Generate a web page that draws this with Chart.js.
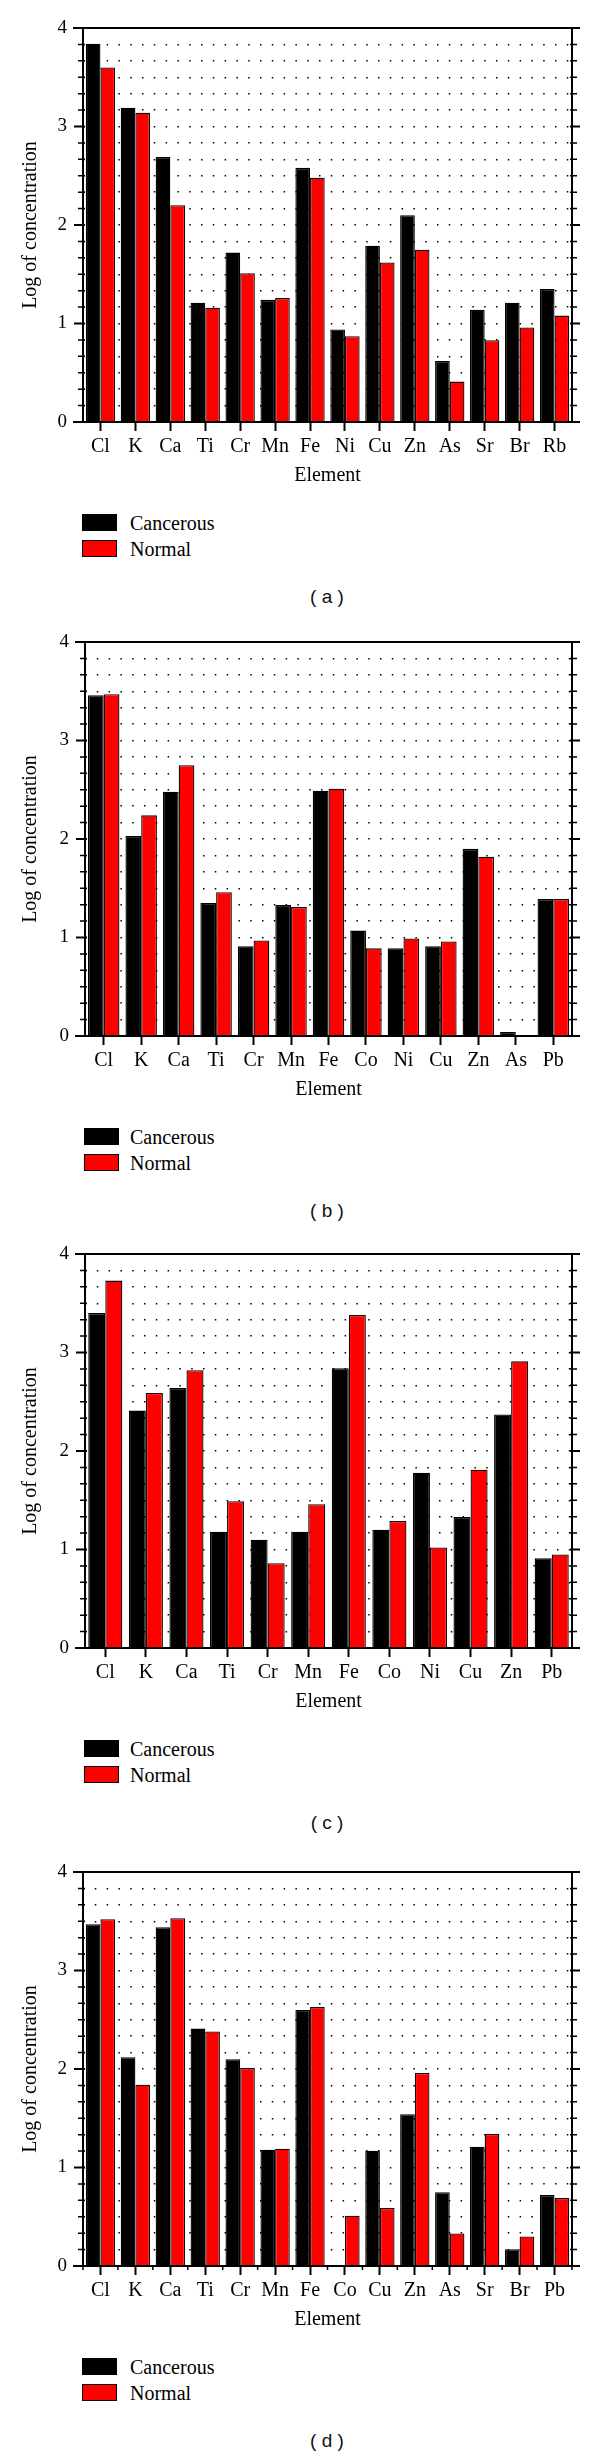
<!DOCTYPE html>
<html>
<head>
<meta charset="utf-8">
<script src="https://cdn.jsdelivr.net/npm/chart.js@4"></script>
<style>
    body { margin: 0; background: #fff; width: 600px; height: 2456px; position: relative; }
    .panel { position: absolute; left: 0; width: 600px; height: 614px; }
    .panel canvas { position: absolute; left: 0; top: 0; }
    .box { position: absolute; width: 35px; height: 17px; box-sizing: border-box; }
    .box.black { background: #000; }
    .box.red { background: #f00; border: 1.5px solid #000; }
    .legtext { position: absolute; left: 130px; font: 20px "Liberation Serif", serif; line-height: 22px; color: #000; }
    .caption { position: absolute; left: 227px; width: 200px; top: 585px; text-align: center; font: 19px "Liberation Sans", Arial, sans-serif; color: #111; line-height: 24px; }
</style>
</head>
<body>

<script>
// panel (a)
const elementsA = ["Cl", "K", "Ca", "Ti", "Cr", "Mn", "Fe", "Ni", "Cu", "Zn", "As", "Sr", "Br", "Rb"];
const cancerousA = [3.84, 3.19, 2.69, 1.21, 1.72, 1.24, 2.58, 0.94, 1.79, 2.10, 0.62, 1.14, 1.21, 1.35];
const normalA = [3.60, 3.14, 2.20, 1.16, 1.51, 1.26, 2.48, 0.87, 1.62, 1.75, 0.41, 0.83, 0.96, 1.08];

// panel (b)
const elementsB = ["Cl", "K", "Ca", "Ti", "Cr", "Mn", "Fe", "Co", "Ni", "Cu", "Zn", "As", "Pb"];
const cancerousB = [3.46, 2.03, 2.48, 1.35, 0.91, 1.33, 2.49, 1.07, 0.89, 0.91, 1.90, 0.04, 1.39];
const normalB = [3.47, 2.24, 2.75, 1.46, 0.97, 1.31, 2.51, 0.89, 0.99, 0.96, 1.82, 0, 1.39];

// panel (c)
const elementsC = ["Cl", "K", "Ca", "Ti", "Cr", "Mn", "Fe", "Co", "Ni", "Cu", "Zn", "Pb"];
const cancerousC = [3.40, 2.41, 2.64, 1.18, 1.10, 1.18, 2.84, 1.20, 1.78, 1.33, 2.37, 0.91];
const normalC = [3.73, 2.59, 2.82, 1.49, 0.86, 1.46, 3.38, 1.29, 1.02, 1.81, 2.91, 0.95];

// panel (d)
const elementsD = ["Cl", "K", "Ca", "Ti", "Cr", "Mn", "Fe", "Co", "Cu", "Zn", "As", "Sr", "Br", "Pb"];
const cancerousD = [3.47, 2.12, 3.44, 2.41, 2.10, 1.18, 2.60, 0, 1.17, 1.54, 0.75, 1.21, 0.17, 0.72];
const normalD = [3.52, 1.84, 3.53, 2.38, 2.01, 1.19, 2.63, 0.51, 0.59, 1.96, 0.33, 1.34, 0.30, 0.69];

const seriesNames = ["Cancerous", "Normal"];
const yMax = 4;
const minorPerUnit = 6;

const serif = "'Liberation Serif', 'Times New Roman', serif";

// axis frame + minor ticks like the original plot
const framePlugin = {
    id: "frame",
    afterDatasetsDraw(chart, args, opts) {
        const { ctx, chartArea } = chart;
        const { left, right, top, bottom } = chartArea;
        const yScale = chart.scales.y;
        const xScale = chart.scales.x;
        ctx.save();
        ctx.strokeStyle = "#000";
        ctx.lineCap = "butt";

        yScale.ticks.forEach(t => {
            const y = yScale.getPixelForValue(t.value);
            const major = Math.abs(t.value - Math.round(t.value)) < 1e-6;
            ctx.lineWidth = major ? 2 : 1.5;
            ctx.beginPath();
            ctx.moveTo(left - (major ? 9 : 5), y);
            ctx.lineTo(left + 2, y);
            ctx.moveTo(right - 2, y);
            ctx.lineTo(right + (major ? 8 : 5), y);
            ctx.stroke();
        });

        ctx.lineWidth = 2;
        ctx.beginPath();
        ctx.moveTo(left - 10, top);
        ctx.lineTo(right + 8, top);
        ctx.moveTo(left - 10, bottom);
        ctx.lineTo(right + 8, bottom);
        ctx.moveTo(left, top);
        ctx.lineTo(left, bottom);
        ctx.moveTo(right, top);
        ctx.lineTo(right, bottom);
        ctx.stroke();

        if (opts.boundaryTicks) {
            ctx.lineWidth = 1.5;
            ctx.beginPath();
            for (let i = 0; i <= xScale.ticks.length; i++) {
                const x = xScale.getPixelForValue(i - 0.5);
                ctx.moveTo(x, bottom);
                ctx.lineTo(x, bottom + 4);
            }
            ctx.stroke();
        }
        ctx.restore();
    }
};

function makePanel(letter, top, elements, cancerous, normal, axisWidth, boundaryTicks) {
    const panel = document.createElement("div");
    panel.className = "panel";
    panel.style.top = top + "px";
    panel.innerHTML =
        '<canvas width="600" height="488"></canvas>' +
        '<div class="box black" style="left:' + (axisWidth - 1) + 'px;top:514px"></div>' +
        '<div class="box red" style="left:' + (axisWidth - 1) + 'px;top:540px"></div>' +
        '<div class="legtext" style="top:512px">' + seriesNames[0] + '</div>' +
        '<div class="legtext" style="top:538px">' + seriesNames[1] + '</div>' +
        '<div class="caption">( ' + letter + ' )</div>';
    document.body.appendChild(panel);

    new Chart(panel.querySelector("canvas"), {
        type: "bar",
        data: {
            labels: elements,
            datasets: [{
                label: seriesNames[0],
                data: cancerous,
                backgroundColor: "#000",
                borderColor: "#000",
                borderWidth: 1.3
            }, {
                label: seriesNames[1],
                data: normal,
                backgroundColor: "#ff0000",
                borderColor: "#1a0000",
                borderWidth: 1.3
            }]
        },
        options: {
            responsive: false,
            animation: false,
            layout: { padding: { top: 28, right: 28, left: 0, bottom: 0 } },
            datasets: { bar: { categoryPercentage: 0.84, barPercentage: 1.0 } },
            plugins: {
                legend: { display: false },
                tooltip: { enabled: false },
                frame: { boundaryTicks: boundaryTicks }
            },
            scales: {
                x: {
                    grid: { drawOnChartArea: false, drawTicks: true, tickLength: 9, tickWidth: 2, tickColor: "#000", offset: false },
                    border: { display: false },
                    ticks: { color: "#000", font: { family: serif, size: 20 }, padding: 4, maxRotation: 0, autoSkip: false },
                    title: { display: true, text: "Element", color: "#000", font: { family: serif, size: 20 }, padding: { top: 0, bottom: 0 } },
                    afterFit: s => { s.height = 66; }
                },
                y: {
                    min: 0,
                    max: yMax,
                    afterBuildTicks: s => {
                        const t = [];
                        for (let k = 0; k <= yMax * minorPerUnit; k++) t.push({ value: k / minorPerUnit });
                        s.ticks = t;
                    },
                    ticks: {
                        color: "#000",
                        font: { family: serif, size: 19 },
                        padding: 16,
                        autoSkip: false,
                        callback: v => Math.abs(v - Math.round(v)) < 1e-6 ? Math.round(v) : ""
                    },
                    grid: { drawTicks: false, color: "#000", lineWidth: 1.5 },
                    border: { display: false, dash: [1.5, 10.3] },
                    title: { display: true, text: "Log of concentration", color: "#000", font: { family: serif, size: 20 }, padding: { top: 19, bottom: 0 } },
                    afterFit: s => { s.width = axisWidth; }
                }
            }
        },
        plugins: [framePlugin]
    });
}

makePanel("a", 0, elementsA, cancerousA, normalA, 83, false);
makePanel("b", 614, elementsB, cancerousB, normalB, 85, false);
makePanel("c", 1226, elementsC, cancerousC, normalC, 85, false);
makePanel("d", 1844, elementsD, cancerousD, normalD, 83, true);
</script>
</body>
</html>
